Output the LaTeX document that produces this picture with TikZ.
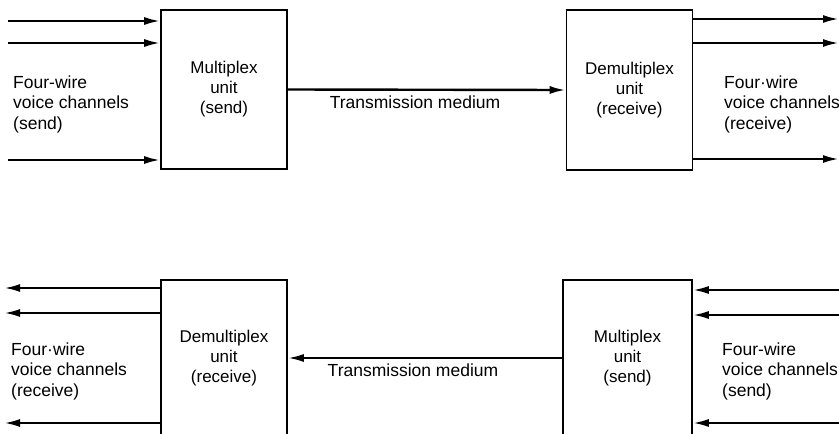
\documentclass[tikz,border=0pt]{standalone}
\usepackage{fontspec}
\setmainfont{Liberation Sans}
\usetikzlibrary{arrows.meta}
\begin{document}
\begin{tikzpicture}[x=1pt,y=-1pt,
  unitbox/.style={draw,line width=1.6pt,minimum width=126pt,minimum height=#1,
    inner sep=0pt,align=center,font=\fontsize{17}{20}\selectfont},
  txt/.style={align=left,inner sep=0pt,font=\fontsize{17.5}{20.5}\selectfont},
  arr/.style={line width=2.4pt,-{Latex[length=16pt,width=8pt]}}]
\useasboundingbox (0,0) rectangle (839,434);

% top chain: send side on the left, receive side on the right
\node[unitbox=159pt] (mux1) at (224,89.5) {Multiplex\\unit\\(send)};
\node[unitbox=160pt] (dmx1) at (629.5,90) {Demultiplex\\unit\\(receive)};
\draw[arr] (mux1.east) -- (dmx1.west);
\node[txt] (tm1) at (415,102) {Transmission medium};

\coordinate (i1) at (8,21);
\coordinate (i2) at (8,43);
\coordinate (i3) at (8,160);
\foreach \c in {i1,i2,i3} \draw[arr] (\c) -- (\c -| mux1.west);
\node[txt,anchor=west] (ltop) at (13,104) {Four-wire\\voice channels\\(send)};

\coordinate (o1) at (839,19);
\coordinate (o2) at (839,43);
\coordinate (o3) at (839,159);
\foreach \c in {o1,o2,o3} \draw[arr] (\c -| dmx1.east) -- (\c);
\node[txt,anchor=west] (rtop) at (724,104) {Four·wire\\voice channels\\(receive)};

% bottom chain: reverse direction
\node[unitbox=156pt] (dmx2) at (224,358) {Demultiplex\\unit\\(receive)};
\node[unitbox=156pt,minimum width=129pt] (mux2) at (627.5,358) {Multiplex\\unit\\(send)};
\draw[arr] (mux2.west) -- (dmx2.east);
\node[txt] (tm2) at (413,370) {Transmission medium};

\coordinate (p1) at (4,288);
\coordinate (p2) at (4,313);
\coordinate (p3) at (4,423);
\foreach \c in {p1,p2,p3} \draw[arr] (\c -| dmx2.west) -- (\c);
\node[txt,anchor=west] (lbot) at (11,371) {Four·wire\\voice channels\\(receive)};

\coordinate (q1) at (839,290);
\coordinate (q2) at (839,315);
\coordinate (q3) at (839,423);
\foreach \c in {q1,q2,q3} \draw[arr] (\c) -- (\c -| mux2.east);
\node[txt,anchor=west] (rbot) at (722,371) {Four-wire\\voice channels\\(send)};
\end{tikzpicture}
\end{document}
